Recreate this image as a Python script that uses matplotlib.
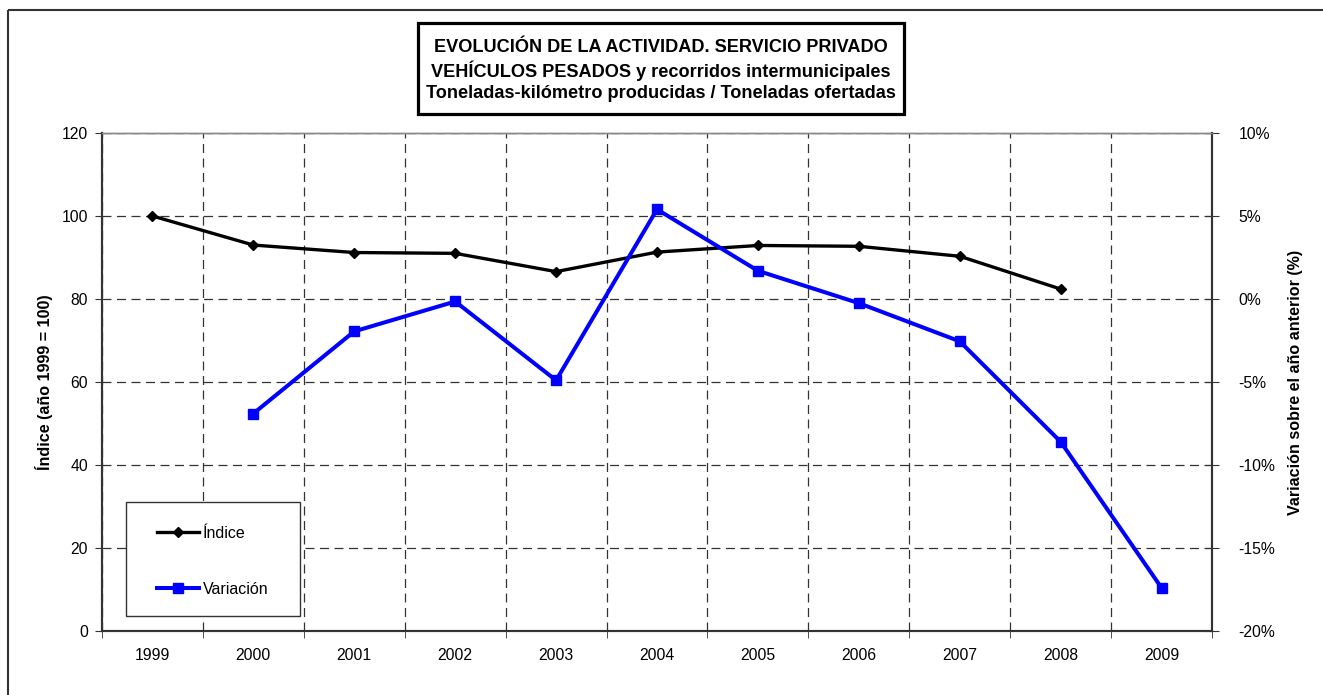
import matplotlib.pyplot as plt
import matplotlib.patches as patches
import numpy as np

plt.rcParams['font.family'] = ['Liberation Sans', 'DejaVu Sans']

# Datos
anios = ['1999', '2000', '2001', '2002', '2003', '2004', '2005', '2006', '2007', '2008', '2009']
indice = [100, 93.0, 91.2, 91.0, 86.6, 91.3, 92.9, 92.7, 90.3, 82.4, np.nan]
variacion = [np.nan, -6.9, -1.95, -0.15, -4.9, 5.4, 1.7, -0.25, -2.55, -8.6, -17.4]

W, H = 1323, 695
fig = plt.figure(figsize=(W / 100, H / 100), dpi=100)


def fpx(x, y):
    # píxeles de la figura (origen arriba a la izquierda) -> coordenadas de figura
    return x / W, 1 - y / H


# Marco exterior (sólo se ven los bordes superior e izquierdo)
fig.patches.append(patches.Rectangle(fpx(8, 10), 1.2, -1.2, transform=fig.transFigure,
                                     fill=False, edgecolor='#333333', linewidth=1.5))

ax = fig.add_axes([102 / W, 1 - 631 / H, (1212 - 102) / W, (631 - 133) / H])
ax2 = ax.twinx()

x = np.arange(len(anios))
ax.plot(x, indice, color='black', linewidth=2.4, marker='D', markersize=5.5, label='Índice', zorder=3)
ax2.plot(x, variacion, color='blue', linewidth=2.9, marker='s', markersize=7.5, label='Variación', zorder=3)

ax.set_xlim(-0.5, len(anios) - 0.5)
ax.set_ylim(0, 120)
ax.set_yticks(np.arange(0, 121, 20))
ax2.set_ylim(-20, 10)
ax2.set_yticks(np.arange(-20, 11, 5))
ax2.set_yticklabels([f'{v}%' for v in range(-20, 11, 5)])

ax.set_xticks(x)
ax.set_xticklabels(anios)
ax.set_xticks(np.arange(-0.5, len(anios), 1), minor=True)
ax.tick_params(axis='x', which='major', length=0, pad=12, labelsize=11.3)
ax.tick_params(axis='x', which='minor', length=5, direction='out', color='#333333')
ax.tick_params(axis='y', length=5, direction='out', color='#333333', labelsize=11.3, pad=5)
ax2.tick_params(axis='y', length=10, direction='inout', color='#333333', labelsize=11.3, pad=14)

dash = (0, (7.2, 4.4))
ax.grid(True, which='minor', axis='x', color='#333333', linestyle=dash, linewidth=0.9)
ax.grid(True, which='major', axis='y', color='#333333', linestyle=dash, linewidth=0.9)
ax.set_axisbelow(True)

for a in (ax, ax2):
    for s in a.spines.values():
        s.set_color('#333333')
        s.set_linewidth(1.5)
for a in (ax, ax2):
    a.spines['top'].set_color('#888888')
    a.spines['top'].set_linewidth(1)

ax.set_ylabel('Índice (año 1999 = 100)', fontsize=11.6, fontweight='bold', labelpad=6)
ax2.set_ylabel('Variación sobre el año anterior (%)', fontsize=11.6, fontweight='bold', labelpad=9)

# Título en recuadro
x0, y0 = fpx(418, 114)
x1, y1 = fpx(904, 23)
fig.patches.append(patches.Rectangle((x0, y0), x1 - x0, y1 - y0, transform=fig.transFigure,
                                     facecolor='white', edgecolor='black', linewidth=2.3))
fig.text(*fpx(661, 70.5),
         'EVOLUCIÓN DE LA ACTIVIDAD. SERVICIO PRIVADO\n'
         'VEHÍCULOS PESADOS y recorridos intermunicipales\n'
         'Toneladas-kilómetro producidas / Toneladas ofertadas',
         ha='center', va='center', fontsize=13.1, fontweight='bold', linespacing=1.3)

# Leyenda
lx0, ly0 = fpx(126, 616)
lx1, ly1 = fpx(300, 502)
ax2.add_patch(patches.Rectangle((lx0, ly0), lx1 - lx0, ly1 - ly0, transform=fig.transFigure,
                                facecolor='white', edgecolor='#333333', linewidth=1,
                                zorder=4, clip_on=False))
h1, l1 = ax.get_legend_handles_labels()
h2, l2 = ax2.get_legend_handles_labels()
leg = ax2.legend(h1 + h2, l1 + l2, loc='upper left', bbox_to_anchor=fpx(157, 526),
                 bbox_transform=fig.transFigure, fontsize=11.5, frameon=False,
                 labelspacing=2.55, handlelength=2.6, handletextpad=0.25, borderpad=0, borderaxespad=0)
leg.set_zorder(5)

fig.savefig('out.png', dpi=100)
